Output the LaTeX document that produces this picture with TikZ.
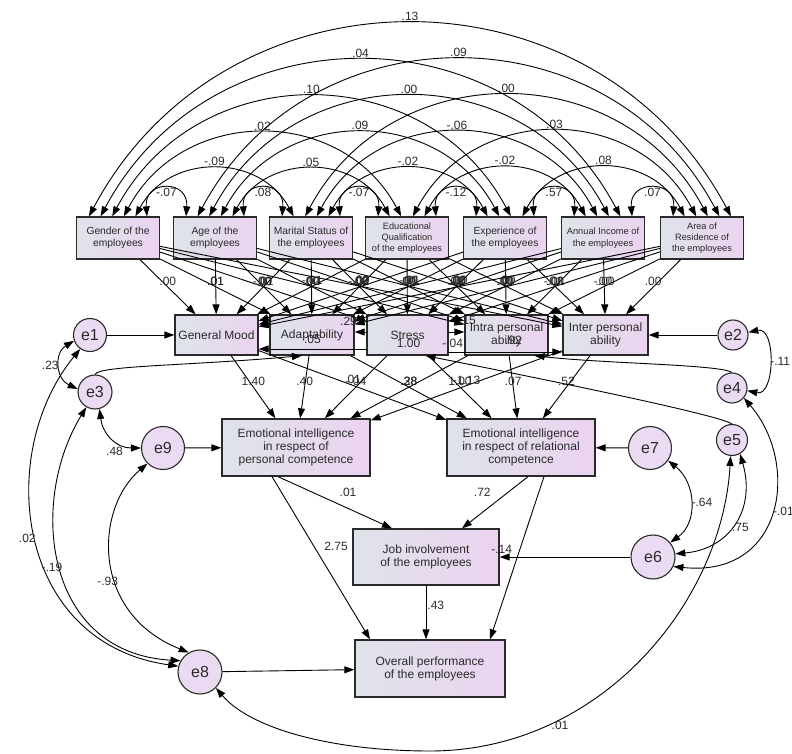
\documentclass[tikz,border=0pt]{standalone}
\usepackage{fontspec}
\setmainfont{Liberation Sans}
\usetikzlibrary{arrows.meta}
\definecolor{boxL}{HTML}{DFE3EA}
\definecolor{boxR}{HTML}{EBD3F0}
\definecolor{errF}{HTML}{EADAF2}
\definecolor{ink}{HTML}{2A2A2A}
\begin{document}
\begin{tikzpicture}[x=1pt,y=1pt,
  basebox/.style={draw=ink, line width=1.3pt, left color=boxL, right color=boxR, align=center, inner sep=0pt, text=ink},
  topbox/.style={basebox, minimum width=83pt, minimum height=42pt, font=\fontsize{10.3}{11.8}\selectfont},
  midbox/.style={basebox, minimum height=40pt, font=\fontsize{12}{13}\selectfont},
  bigbox/.style={basebox, minimum width=148pt, minimum height=57pt, font=\fontsize{12}{13}\selectfont},
  errnode/.style={circle, draw=ink, line width=1.1pt, fill=errF, inner sep=0pt, font=\fontsize{16}{16}\selectfont, text=ink},
  parr/.style={draw=black, line width=0.9pt, -{Triangle[length=10pt,width=7pt]}},
  pcov/.style={draw=black, line width=0.9pt, {Triangle[length=10pt,width=7pt]}-{Triangle[length=10pt,width=7pt]}},
  plab/.style={font=\fontsize{12}{12}\selectfont, inner sep=1pt, text=ink}]
\useasboundingbox (0,0) rectangle (792,753);

% exogenous
\node[topbox] (x1) at (118,515) {Gender of the\\employees};
\node[topbox] (x2) at (215,515) {Age of the\\employees};
\node[topbox] (x3) at (311,515) {Marital Status of\\the employees};
\node[topbox, font=\fontsize{9.2}{11.2}\selectfont] (x4) at (407,515) {Educational\\Qualification\\of the employees};
\node[topbox] (x5) at (505,515) {Experience of\\the employees};
\node[topbox, font=\fontsize{9.3}{11.8}\selectfont] (x6) at (603,515) {Annual Income of\\the employees};
\node[topbox, font=\fontsize{9.2}{11.2}\selectfont] (x7) at (702,515) {Area of\\Residence of\\the employees};

% second row
\node[midbox, minimum width=83pt] (m1) at (216.5,418) {General Mood};
\node[midbox, minimum width=84pt] (m2) at (312,418) {Adaptability};
\node[midbox, minimum width=81pt] (m3) at (407.5,418) {Stress};
\node[midbox, minimum width=83pt] (m4) at (506.5,418) {Intra personal\\ability};
\node[midbox, minimum width=85pt] (m5) at (605.5,418) {Inter personal\\ability};

% third row and outcomes
\node[bigbox] (p) at (296,305.5) {Emotional intelligence\\in respect of\\personal competence};
\node[bigbox] (r) at (521,305.5) {Emotional intelligence\\in respect of relational\\competence};
\node[bigbox, minimum width=146pt, minimum height=56pt] (job) at (426,196) {Job involvement\\of the employees};
\node[bigbox, minimum width=150pt] (ov) at (430,84.5) {Overall performance\\of the employees};

% error terms
\node[errnode, minimum size=33pt] (e1) at (90,418) {e1};
\node[errnode, minimum size=30pt] (e2) at (733,418) {e2};
\node[errnode, minimum size=34pt] (e3) at (95,361) {e3};
\node[errnode, minimum size=30pt] (e4) at (732,365) {e4};
\node[errnode, minimum size=31pt] (e5) at (732,313) {e5};
\node[errnode, minimum size=44pt] (e6) at (653,196) {e6};
\node[errnode, minimum size=43pt] (e7) at (650,305) {e7};
\node[errnode, minimum size=44pt] (e8) at (200,81) {e8};
\node[errnode, minimum size=43pt] (e9) at (163,305) {e9};

% covariances among exogenous variables
\def\offs{{-29,-17.4,-5.8,5.8,17.4,29}}
\def\cxs{{118,215,311,407,505,603,702}}
\foreach \i/\j/\l in {1/2/-.07,2/3/.08,3/4/-.07,4/5/-.12,5/6/.57,6/7/.07,
  1/3/-.09,2/4/.05,3/5/-.02,4/6/-.02,5/7/.08,
  1/4/.02,2/5/.09,3/6/-.06,4/7/.03,
  1/5/.10,2/6/.00,3/7/.00,
  1/6/.04,2/7/.09,
  1/7/.13}{
  \pgfmathtruncatemacro\d{\j-\i}
  \pgfmathsetmacro\oa{\offs[6-\d]}
  \pgfmathsetmacro\ob{\offs[\d-1]}
  \pgfmathsetmacro\cc{\cxs[\j-1]-\cxs[\i-1]+\ob-\oa}
  \ifnum\d=1
    \draw[pcov] ([xshift=\oa pt]x\i.north) .. controls +(-3,37) and +(3,37) .. node[plab, pos=0.5, yshift=-4pt]{\l} ([xshift=\ob pt]x\j.north);
  \else
    \pgfmathsetmacro\dx{0.213*\cc}
    \pgfmathsetmacro\dy{0.40*\cc}
    \draw[pcov] ([xshift=\oa pt]x\i.north) .. controls +(\dx,\dy) and +(-\dx,\dy) .. node[plab, pos=0.5, above=1.5pt]{\l} ([xshift=\ob pt]x\j.north);
  \fi
}

% exogenous -> second row
\foreach \s/\va/\vb/\vc/\vd/\ve in {1/.00/.01/.00/-.01/.00, 2/.01/.00/.02/.00/-.01,
  3/-.01/.00/.00/.01/.00, 4/.00/-.02/.00/.00/.01, 5/.02/.00/.01/.00/.00,
  6/.00/.01/.00/-.01/-.00, 7/.00/.00/.01/.00/.00}{
  \draw[parr] (x\s) -- node[plab, above]{\va} (m1);
  \draw[parr] (x\s) -- node[plab, above]{\vb} (m2);
  \draw[parr] (x\s) -- node[plab, above]{\vc} (m3);
  \draw[parr] (x\s) -- node[plab, above]{\vd} (m4);
  \draw[parr] (x\s) -- node[plab, above]{\ve} (m5);
}

% within second row
\draw[parr] ([yshift=3]m3.west) -- node[plab, xshift=-12pt, yshift=11pt]{.29} ([yshift=3]m2.east);
\draw[parr] ([yshift=3]m3.east) -- node[plab, xshift=11pt, yshift=12pt]{.15} ([yshift=3]m4.west);
\draw[parr] ([yshift=-14]m3.west) -- node[plab, yshift=10pt]{.05} ([yshift=-14]m1.east);
\draw[parr] ([yshift=-17]m3.east) -- node[plab, pos=0, xshift=4pt, yshift=9pt]{-.04} ([yshift=-17]m5.west);

% second row -> EI
\draw[parr] (m1) -- node[plab, above]{1.40} (p);
\draw[parr] (m2) -- node[plab, above]{.40} (p);
\draw[parr] (m3) -- node[plab, above]{-.04} (p);
\draw[parr] (m4) -- node[plab, above]{.28} (p);
\draw[parr] (m5) -- node[plab, above]{-1.13} (p);
\draw[parr] (m1) -- node[plab, above]{.01} (r);
\draw[parr] (m2) -- node[plab, above]{.38} (r);
\draw[parr] (m3) -- node[plab, above]{1.00} (r);
\draw[parr] (m4) -- node[plab, above]{.07} (r);
\draw[parr] (m5) -- node[plab, above]{.52} (r);

% EI -> job, overall
\draw[parr] ([xshift=-18]p.south) -- node[plab, xshift=13pt, yshift=10pt]{.01} ([xshift=-34]job.north);
\draw[parr] ([xshift=-24]p.south) -- node[plab, pos=0.43, xshift=22pt]{2.75} ([xshift=-60]ov.north);
\draw[parr] ([xshift=7]r.south) -- node[plab, pos=0.45, xshift=-16pt, yshift=8pt]{.72} ([xshift=36]job.north);
\draw[parr] ([xshift=23]r.south) -- node[plab, pos=0.45, xshift=-18pt]{-.14} ([xshift=60]ov.north);
\draw[parr] (job.south) -- node[plab, right, pos=0.36]{.43} (job.south |- ov.north);

% error paths
\draw[parr] (e1) -- (m1);
\draw[parr] (e2) -- (m5);
\draw[parr] (e3.north) .. controls +(3,9) and +(-110,-10) .. ([xshift=-10]m2.south);
\draw[parr] (e4.north) .. controls +(-12,8) and +(70,-8) .. node[plab, pos=1, xshift=-21pt, yshift=15pt]{.92} ([xshift=28]m4.south);
\draw[parr] (e5.north) .. controls +(-14,10) and +(80,-16) .. node[plab, pos=1, xshift=-17pt, yshift=12pt]{1.00} ([xshift=18]m3.south);
\draw[parr] (e9) -- (p);
\draw[parr] (e7) -- (r);
\draw[parr] (e6) -- (job);
\draw[parr] (e8) -- (ov);

% error covariances
\draw[pcov] (e1.200) .. controls +(-20,-12) and +(-22,10) .. node[plab, pos=0.5, left]{.23} (e3.170);
\draw[pcov] (e3.-75) .. controls +(3,-25) and +(-25,0) .. node[plab, pos=0.75, below left]{.48} (e9.west);
\draw[pcov] (e2.10) .. controls +(28,6) and +(28,-6) .. node[plab, right, pos=0.5]{-.11} (e4.-10);
\draw[pcov] (e4.-40) .. controls (800,290) and (785,175) .. node[plab, pos=0.5, right]{-.01} (e6.-25);
\draw[pcov] (e5.-60) .. controls +(16,-55) and +(55,5) .. node[plab, pos=0.55, right]{.75} (e6.8);
\draw[pcov] (e7.-35) .. controls +(28,-22) and +(28,20) .. node[plab, pos=0.5, right]{-.64} (e6.40);
\coordinate (bot) at (430,2);
\draw[pcov] (e5.-95) .. controls (722,150) and (600,2) .. node[plab, pos=0.72, below]{.01} (bot) .. controls (330,2) and (250,25) .. (e8.-45);
\draw[pcov] (e1.235) .. controls (-5,300) and (15,110) .. node[plab, pos=0.5, left=-1pt]{.02} (e8.165);
\draw[pcov] (e3.240) .. controls (28,250) and (45,100) .. node[plab, pos=0.5, left=-3pt]{-.19} (e8.150);
\draw[pcov] (e9.225) .. controls (95,245) and (90,140) .. node[plab, pos=0.6, left=-3pt]{-.93} (e8.120);
\end{tikzpicture}
\end{document}
